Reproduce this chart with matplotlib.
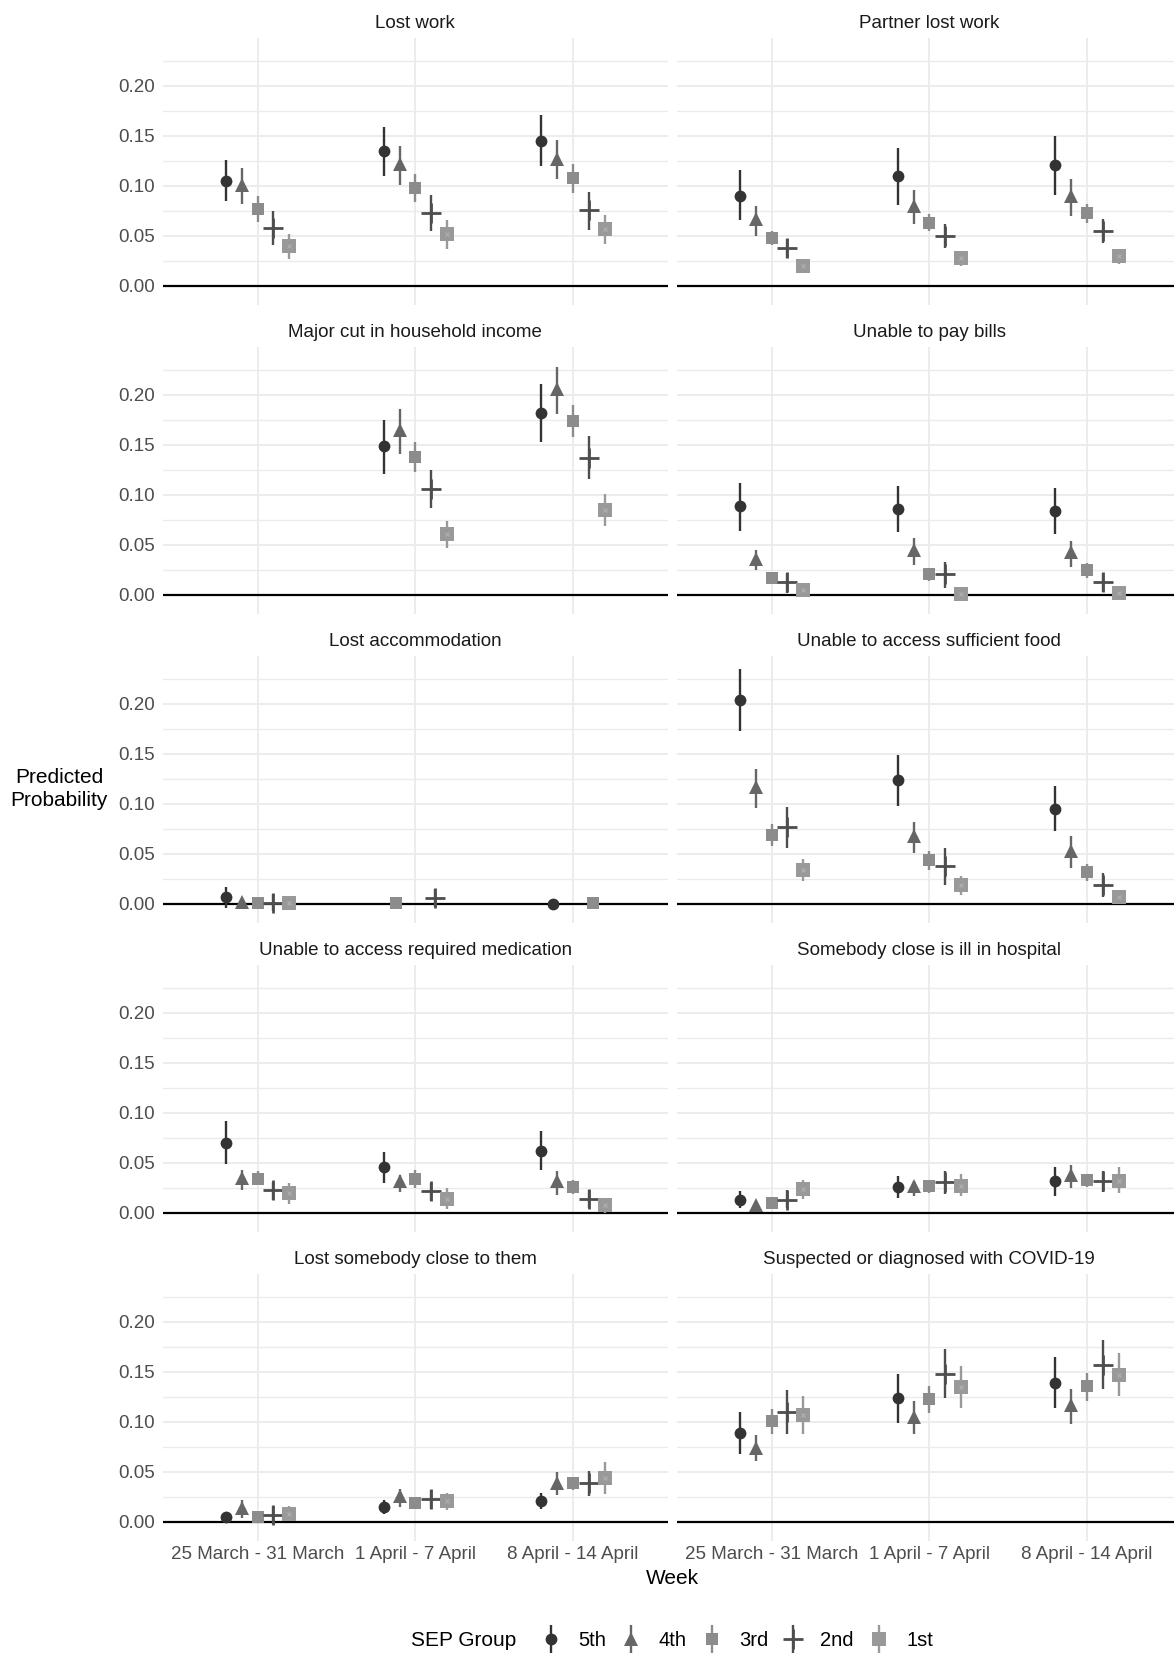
import numpy as np
import matplotlib
matplotlib.use('Agg')
import matplotlib.pyplot as plt
from matplotlib.lines import Line2D
from matplotlib.legend_handler import HandlerTuple

plt.rcParams['font.family'] = ['Liberation Sans', 'DejaVu Sans']

nan = np.nan
weeks = ['25 March - 31 March', '1 April - 7 April', '8 April - 14 April']
groups = ['5th', '4th', '3rd', '2nd', '1st']

# rows = weeks, columns = SEP group (5th .. 1st)
lost_work_est = [[0.105, 0.101, 0.077, 0.058, 0.040], [0.135, 0.122, 0.098, 0.073, 0.052], [0.145, 0.127, 0.108, 0.076, 0.057]]
lost_work_lo = [[0.085, 0.082, 0.064, 0.041, 0.027], [0.110, 0.101, 0.084, 0.055, 0.037], [0.120, 0.107, 0.093, 0.056, 0.042]]
lost_work_hi = [[0.126, 0.118, 0.090, 0.075, 0.052], [0.159, 0.140, 0.112, 0.091, 0.066], [0.171, 0.146, 0.122, 0.094, 0.071]]

partner_est = [[0.090, 0.067, 0.048, 0.038, 0.020], [0.110, 0.080, 0.063, 0.050, 0.028], [0.121, 0.090, 0.073, 0.055, 0.030]]
partner_lo = [[0.066, 0.050, 0.041, 0.028, 0.013], [0.081, 0.062, 0.055, 0.038, 0.020], [0.091, 0.070, 0.063, 0.043, 0.022]]
partner_hi = [[0.116, 0.080, 0.055, 0.047, 0.026], [0.138, 0.096, 0.072, 0.062, 0.035], [0.150, 0.107, 0.082, 0.067, 0.037]]

income_est = [[nan] * 5, [0.149, 0.165, 0.138, 0.106, 0.061], [0.182, 0.206, 0.174, 0.137, 0.085]]
income_lo = [[nan] * 5, [0.121, 0.141, 0.123, 0.087, 0.047], [0.153, 0.181, 0.158, 0.116, 0.069]]
income_hi = [[nan] * 5, [0.175, 0.186, 0.153, 0.125, 0.074], [0.211, 0.228, 0.190, 0.159, 0.101]]

bills_est = [[0.089, 0.036, 0.017, 0.013, 0.005], [0.086, 0.045, 0.021, 0.021, 0.001], [0.084, 0.043, 0.025, 0.013, 0.002]]
bills_lo = [[0.064, 0.025, 0.012, 0.002, 0.000], [0.063, 0.030, 0.014, 0.007, -0.003], [0.061, 0.028, 0.017, 0.003, -0.003]]
bills_hi = [[0.112, 0.045, 0.020, 0.022, 0.010], [0.109, 0.057, 0.027, 0.033, 0.005], [0.107, 0.054, 0.032, 0.022, 0.007]]

accom_est = [[0.007, 0.002, 0.001, 0.001, 0.001], [nan, nan, 0.001, 0.006, nan], [0.000, nan, 0.001, nan, nan]]
accom_lo = [[-0.004, 0.000, 0.000, -0.007, -0.002], [nan, nan, 0.000, -0.003, nan], [-0.001, nan, 0.000, nan, nan]]
accom_hi = [[0.017, 0.004, 0.002, 0.010, 0.004], [nan, nan, 0.002, 0.015, nan], [0.001, nan, 0.002, nan, nan]]

food_est = [[0.204, 0.117, 0.069, 0.077, 0.034], [0.124, 0.068, 0.044, 0.038, 0.019], [0.095, 0.053, 0.032, 0.019, 0.007]]
food_lo = [[0.173, 0.096, 0.058, 0.056, 0.023], [0.098, 0.051, 0.034, 0.019, 0.009], [0.073, 0.036, 0.023, 0.007, 0.001]]
food_hi = [[0.235, 0.135, 0.080, 0.097, 0.045], [0.149, 0.082, 0.053, 0.056, 0.028], [0.118, 0.068, 0.040, 0.031, 0.014]]

medic_est = [[0.070, 0.035, 0.034, 0.023, 0.020], [0.046, 0.032, 0.034, 0.022, 0.014], [0.062, 0.032, 0.026, 0.014, 0.008]]
medic_lo = [[0.049, 0.023, 0.028, 0.013, 0.009], [0.030, 0.021, 0.025, 0.012, 0.004], [0.043, 0.018, 0.019, 0.005, 0.000]]
medic_hi = [[0.092, 0.043, 0.042, 0.031, 0.030], [0.061, 0.038, 0.043, 0.030, 0.025], [0.082, 0.042, 0.033, 0.023, 0.014]]

hosp_est = [[0.013, 0.008, 0.010, 0.013, 0.024], [0.026, 0.027, 0.027, 0.031, 0.027], [0.032, 0.038, 0.033, 0.032, 0.032]]
hosp_lo = [[0.005, 0.006, 0.008, 0.005, 0.014], [0.015, 0.017, 0.020, 0.019, 0.017], [0.017, 0.025, 0.026, 0.021, 0.020]]
hosp_hi = [[0.022, 0.010, 0.012, 0.023, 0.033], [0.037, 0.032, 0.032, 0.042, 0.039], [0.046, 0.048, 0.039, 0.042, 0.046]]

close_est = [[0.005, 0.014, 0.005, 0.007, 0.008], [0.015, 0.026, 0.019, 0.023, 0.021], [0.021, 0.039, 0.039, 0.039, 0.044]]
close_lo = [[0.003, 0.004, 0.003, -0.002, 0.001], [0.008, 0.015, 0.015, 0.013, 0.012], [0.013, 0.027, 0.032, 0.026, 0.028]]
close_hi = [[0.007, 0.022, 0.007, 0.016, 0.016], [0.022, 0.033, 0.022, 0.032, 0.029], [0.029, 0.050, 0.045, 0.051, 0.060]]

covid_est = [[0.089, 0.074, 0.101, 0.110, 0.107], [0.124, 0.105, 0.123, 0.148, 0.135], [0.139, 0.117, 0.136, 0.157, 0.147]]
covid_lo = [[0.068, 0.061, 0.088, 0.088, 0.088], [0.099, 0.088, 0.109, 0.124, 0.114], [0.114, 0.098, 0.121, 0.133, 0.126]]
covid_hi = [[0.110, 0.087, 0.113, 0.132, 0.126], [0.148, 0.121, 0.136, 0.173, 0.156], [0.165, 0.133, 0.149, 0.182, 0.169]]

panels = [
    ('Lost work', lost_work_est, lost_work_lo, lost_work_hi),
    ('Partner lost work', partner_est, partner_lo, partner_hi),
    ('Major cut in household income', income_est, income_lo, income_hi),
    ('Unable to pay bills', bills_est, bills_lo, bills_hi),
    ('Lost accommodation', accom_est, accom_lo, accom_hi),
    ('Unable to access sufficient food', food_est, food_lo, food_hi),
    ('Unable to access required medication', medic_est, medic_lo, medic_hi),
    ('Somebody close is ill in hospital', hosp_est, hosp_lo, hosp_hi),
    ('Lost somebody close to them', close_est, close_lo, close_hi),
    ('Suspected or diagnosed with COVID-19', covid_est, covid_lo, covid_hi),
]

colors = ['#333333', '#666666', '#8c8c8c', '#4d4d4d', '#999999']
markers = ['o', '^', 's', '+', 's']
msizes = [8.5, 10, 8, 14, 10]

W, H = 1174, 1654
fig = plt.figure(figsize=(W / 100, H / 100), dpi=100)
fig.patch.set_facecolor('white')

col_x = [163, 677]
pw = 504.6
zero0, step = 286, 308.9
ylo, yhi = -0.019, 0.248


def dodge(row):
    # ggplot-style dodge (width 0.5) among the groups that are present
    present = [i for i in range(5) if not np.isnan(row[i])]
    n = len(present)
    return {i: -0.25 + (k + 0.5) * 0.5 / n for k, i in enumerate(present)}


for p, (title, est, lo, hi) in enumerate(panels):
    r, c = divmod(p, 2)
    zero = zero0 + r * step
    ax = fig.add_axes([col_x[c] / W, 1 - (zero + 19) / H, pw / W, 267 / H])
    ax.set_xlim(0.4, 3.6)
    ax.set_ylim(ylo, yhi)
    for s in ax.spines.values():
        s.set_visible(False)
    ax.set_xticks([1, 2, 3])
    ax.set_yticks([0, 0.05, 0.10, 0.15, 0.20])
    ax.set_yticks([0.025, 0.075, 0.125, 0.175, 0.225], minor=True)
    ax.grid(which='major', color='#ebebeb', lw=1.3)
    ax.grid(which='minor', axis='y', color='#ebebeb', lw=1.0)
    ax.set_axisbelow(True)
    ax.tick_params(which='both', length=0, labelsize=13.5, labelcolor='#4d4d4d')
    ax.tick_params(axis='y', pad=6)
    ax.tick_params(axis='x', pad=4)
    if c == 0:
        ax.set_yticklabels(['%.2f' % v for v in [0, 0.05, 0.10, 0.15, 0.20]])
    else:
        ax.set_yticklabels([])
    if r == 4:
        ax.set_xticklabels(weeks)
    else:
        ax.set_xticklabels([])
    ax.axhline(0, color='black', lw=1.6, zorder=1.5)
    ax.text(2.0, 0.262, title, ha='center', va='center', fontsize=13.5,
            color='#1a1a1a', clip_on=False)

    for w in range(3):
        offs = dodge(est[w])
        for g, off in offs.items():
            x = w + 1 + off
            ax.vlines(x, lo[w][g], hi[w][g], color=colors[g], lw=1.7, zorder=3)
            mew = 2.0 if markers[g] == '+' else 0
            ax.plot([x], [est[w][g]], marker=markers[g], ls='none',
                    color=colors[g], ms=msizes[g], mew=mew, zorder=4)
            if g == 4:
                ax.plot([x], [est[w][g]], marker='x', ls='none', color='#b3b3b3',
                        ms=3.5, mew=0.7, zorder=5)

fig.text(59 / W, 1 - 789 / H, 'Predicted\nProbability', ha='center', va='center',
         fontsize=15, linespacing=1.3)
fig.text(672 / W, 1 - 1578 / H, 'Week', ha='center', va='center', fontsize=15)
fig.text(411 / W, 1 - 1641 / H, 'SEP Group', ha='left', va='center', fontsize=15)

handles = []
for g in range(5):
    bar = Line2D([], [], color=colors[g], lw=0, marker='|', ms=20, mew=1.7)
    pt = Line2D([], [], color=colors[g], lw=0, marker=markers[g], ms=msizes[g],
                mew=2.0 if markers[g] == '+' else 0)
    handles.append((bar, pt))
fig.legend(handles, groups, loc='center left', bbox_to_anchor=(541 / W, 1 - 1641 / H),
           ncol=5, frameon=False, fontsize=14.5, handlelength=1.0,
           handletextpad=0.85, columnspacing=0.75, borderpad=0, borderaxespad=0,
           handler_map={tuple: HandlerTuple(ndivide=1)})

fig.savefig('out.png', dpi=100, facecolor='white')
